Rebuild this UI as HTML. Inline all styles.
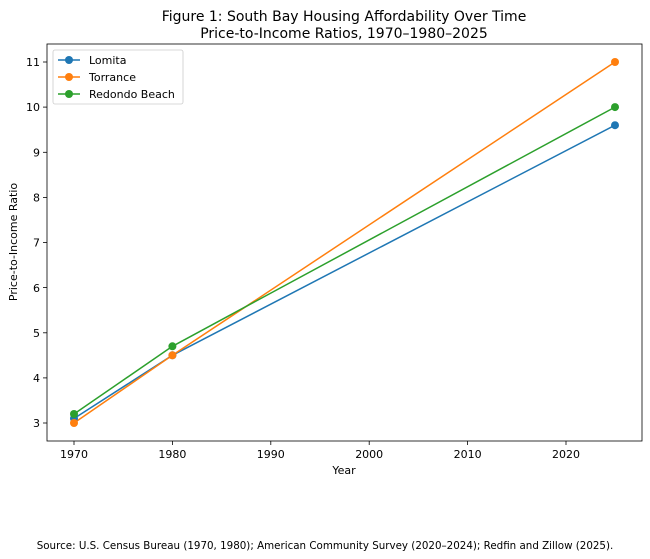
<!DOCTYPE html>
<html><head><meta charset="utf-8"><style>body{margin:0;background:#fff}svg{display:block;font-family:"DejaVu Sans","Liberation Sans",sans-serif}</style></head><body>
<svg width="650" height="559" viewBox="0 0 650 559" xmlns="http://www.w3.org/2000/svg">
<rect width="650" height="559" fill="#fff"/>
<text x="344" y="21" font-size="14" text-anchor="middle">Figure 1: South Bay Housing Affordability Over Time</text>
<text x="344" y="38" font-size="14" text-anchor="middle">Price-to-Income Ratios, 1970–1980–2025</text>
<g font-size="11" text-anchor="middle">
<g stroke="#000" stroke-width="0.8">
<line x1="74" y1="441" x2="74" y2="445"/><line x1="172.4" y1="441" x2="172.4" y2="445"/><line x1="270.8" y1="441" x2="270.8" y2="445"/><line x1="369.2" y1="441" x2="369.2" y2="445"/><line x1="467.6" y1="441" x2="467.6" y2="445"/><line x1="566" y1="441" x2="566" y2="445"/>
</g>
<text x="74" y="458">1970</text><text x="172.4" y="458">1980</text><text x="270.8" y="458">1990</text><text x="369.2" y="458">2000</text><text x="467.6" y="458">2010</text><text x="566" y="458">2020</text>
<text x="344" y="474">Year</text>
</g>
<g font-size="11" text-anchor="end">
<g stroke="#000" stroke-width="0.8">
<line x1="43" y1="423" x2="47" y2="423"/><line x1="43" y1="377.9" x2="47" y2="377.9"/><line x1="43" y1="332.8" x2="47" y2="332.8"/><line x1="43" y1="287.6" x2="47" y2="287.6"/><line x1="43" y1="242.5" x2="47" y2="242.5"/><line x1="43" y1="197.4" x2="47" y2="197.4"/><line x1="43" y1="152.3" x2="47" y2="152.3"/><line x1="43" y1="107.1" x2="47" y2="107.1"/><line x1="43" y1="62" x2="47" y2="62"/>
</g>
<text x="40" y="427">3</text><text x="40" y="382">4</text><text x="40" y="337">5</text><text x="40" y="292">6</text><text x="40" y="246.5">7</text><text x="40" y="201.5">8</text><text x="40" y="156.5">9</text><text x="40" y="111">10</text><text x="40" y="66">11</text>
</g>
<text transform="translate(17,242) rotate(-90)" font-size="11" text-anchor="middle">Price-to-Income Ratio</text>
<polyline points="74,418.5 172.4,355.3 615,125.2" fill="none" stroke="#1f77b4" stroke-width="1.5"/>
<polyline points="74,423 172.4,355.3 615,62" fill="none" stroke="#ff7f0e" stroke-width="1.5"/>
<polyline points="74,414 172.4,346.3 615,107.1" fill="none" stroke="#2ca02c" stroke-width="1.5"/>
<g fill="#1f77b4"><circle cx="74" cy="418.5" r="4"/><circle cx="172.4" cy="355.3" r="4"/><circle cx="615" cy="125.2" r="4"/></g>
<g fill="#ff7f0e"><circle cx="74" cy="423" r="4"/><circle cx="172.4" cy="355.3" r="4"/><circle cx="615" cy="62" r="4"/></g>
<g fill="#2ca02c"><circle cx="74" cy="414" r="4"/><circle cx="172.4" cy="346.3" r="4"/><circle cx="615" cy="107.1" r="4"/></g>
<rect x="47" y="44" width="595" height="397" fill="none" stroke="#000" stroke-width="0.8"/>
<rect x="53" y="50" width="130" height="54" rx="2" fill="#fff" fill-opacity="0.8" stroke="#ccc" stroke-width="0.8"/>
<g font-size="11">
<line x1="58" y1="60" x2="80" y2="60" stroke="#1f77b4" stroke-width="1.5"/><circle cx="69" cy="60" r="4" fill="#1f77b4"/><text x="89" y="64">Lomita</text>
<line x1="58" y1="77" x2="80" y2="77" stroke="#ff7f0e" stroke-width="1.5"/><circle cx="69" cy="77" r="4" fill="#ff7f0e"/><text x="89" y="81">Torrance</text>
<line x1="58" y1="94" x2="80" y2="94" stroke="#2ca02c" stroke-width="1.5"/><circle cx="69" cy="94" r="4" fill="#2ca02c"/><text x="89" y="98">Redondo Beach</text>
</g>
<text x="325" y="549" font-size="10.3" text-anchor="middle">Source: U.S. Census Bureau (1970, 1980); American Community Survey (2020–2024); Redfin and Zillow (2025).</text>
</svg>
</body></html>
